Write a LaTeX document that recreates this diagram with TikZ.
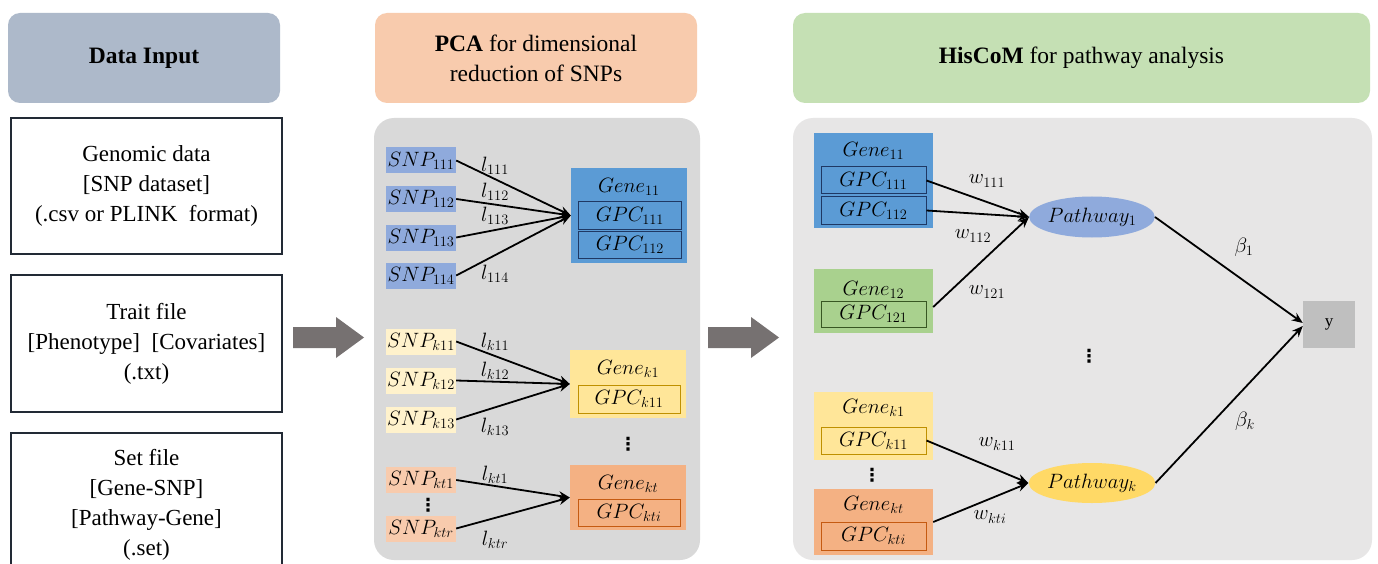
\documentclass[tikz,border=0pt]{standalone}
\usepackage[no-math]{fontspec}
\setmainfont{Liberation Serif}
\newfontfamily\dotsfont{DejaVu Sans}
\usetikzlibrary{arrows.meta,shapes.geometric,calc}

\definecolor{hdrgray}{HTML}{ADB9CA}
\definecolor{hdrpeach}{HTML}{F8CBAD}
\definecolor{hdrgreen}{HTML}{C5E0B4}
\definecolor{panelmid}{HTML}{D9D9D9}
\definecolor{panelright}{HTML}{E7E6E6}
\definecolor{navy}{HTML}{222A35}
\definecolor{geneblue}{HTML}{5B9BD5}
\definecolor{snpblue}{HTML}{8FAADC}
\definecolor{blueline}{HTML}{1F3864}
\definecolor{genegreen}{HTML}{A9D18E}
\definecolor{greenline}{HTML}{385723}
\definecolor{geneyellow}{HTML}{FFE699}
\definecolor{snpyellow}{HTML}{FFF2CC}
\definecolor{yellowline}{HTML}{BF9000}
\definecolor{geneorange}{HTML}{F4B183}
\definecolor{snporange}{HTML}{F8CBAD}
\definecolor{orangeline}{HTML}{C55A11}
\definecolor{pathyellow}{HTML}{FFD966}
\definecolor{ygray}{HTML}{BFBFBF}
\definecolor{bigarrow}{HTML}{767171}

\begin{document}
\begin{tikzpicture}[x=1pt,y=-1pt,
  header/.style={rounded corners=12pt, inner sep=0pt, align=center,
    font=\fontsize{23.5}{30}\selectfont},
  inputbox/.style={draw=navy, line width=2pt, fill=white, inner sep=0pt,
    align=center, font=\fontsize{23}{30}\selectfont},
  panel/.style={rounded corners=20pt, inner sep=0pt},
  mtext/.style={inner sep=0pt, font=\fontsize{20}{23}\selectfont},
  snpbox/.style={mtext, minimum width=70pt, minimum height=26pt},
  genebox/.style={inner sep=0pt},
  gpcbox/.style={mtext, draw, line width=1pt, minimum height=27pt},
  pathnode/.style={ellipse, mtext, minimum width=123pt, minimum height=41pt},
  wire/.style={line width=1.8pt, -{Stealth[length=11pt,width=9pt]}},
  dots/.style={inner sep=0pt, font=\dotsfont\bfseries\fontsize{18}{18}\selectfont}
]
\clip (0,0) rectangle (1378,564);
\fill[white] (0,0) rectangle (1378,564);

% ---------- headers ----------
\node[header, fill=hdrgray, minimum width=272pt, minimum height=90pt] (hin) at (144,58) {\textbf{Data Input}};
\node[header, fill=hdrpeach, minimum width=322pt, minimum height=90pt] (hpca) at (536,58) {\textbf{PCA} for dimensional\\reduction of SNPs};
\node[header, fill=hdrgreen, minimum width=577pt, minimum height=90pt] (hhis) at (1081.5,58) {\textbf{HisCoM} for pathway analysis};

% ---------- input files ----------
\node[inputbox, minimum width=271pt, minimum height=136pt] (geno) at (146.5,186) {Genomic data\\{}[SNP dataset]\\(.csv or PLINK\ \ format)};
\node[inputbox, minimum width=271pt, minimum height=137pt] (trait) at (146.5,343.5) {Trait file\\{}[Phenotype]\ \ [Covariates]\\(.txt)};
\node[inputbox, minimum width=271pt, minimum height=143pt, anchor=north] (setf) at (146.5,432) {};
\node[align=center, inner sep=0pt, font=\fontsize{23}{30}\selectfont] (setftxt) at (146.5,505) {Set file\\{}[Gene-SNP]\\{}[Pathway-Gene]\\(.set)};

% ---------- block arrows between stages ----------
\fill[bigarrow] (293,327) -- (336,327) -- (336,317) -- (364,337.5) -- (336,358) -- (336,348) -- (293,348) -- cycle;
\fill[bigarrow] (708,327) -- (751,327) -- (751,317) -- (779,337.5) -- (751,358) -- (751,348) -- (708,348) -- cycle;

% ---------- panels ----------
\node[panel, fill=panelmid, minimum width=326pt, minimum height=442pt] (pmid) at (537,339) {};
\node[panel, fill=panelright, minimum width=579pt, minimum height=442pt] (pright) at (1082.5,339) {};

% ---------- PCA: gene 11 ----------
\node[snpbox, fill=snpblue] (s111) at (421,160.5) {$SNP_{111}$};
\node[snpbox, fill=snpblue] (s112) at (421,199) {$SNP_{112}$};
\node[snpbox, fill=snpblue] (s113) at (421,237.5) {$SNP_{113}$};
\node[snpbox, fill=snpblue] (s114) at (421,275.5) {$SNP_{114}$};
\node[genebox, fill=geneblue, minimum width=116pt, minimum height=95pt] (g11) at (629,215.5) {};
\node[mtext] (g11t) at (629,187) {$Gene_{11}$};
\node[gpcbox, draw=blueline, minimum width=103pt] (c111) at (630,215.5) {$GPC_{111}$};
\node[gpcbox, draw=blueline, minimum width=103pt] (c112) at (630,245) {$GPC_{112}$};
\foreach \s in {s111,s112,s113,s114} \draw[wire] (\s.east) -- (g11.west);
\node[mtext] (l111) at (495,166) {$l_{111}$};
\node[mtext] (l112) at (495,192) {$l_{112}$};
\node[mtext] (l113) at (495,216) {$l_{113}$};
\node[mtext] (l114) at (495,274) {$l_{114}$};

% ---------- PCA: gene k1 ----------
\node[snpbox, fill=snpyellow] (sk11) at (421,341.5) {$SNP_{k11}$};
\node[snpbox, fill=snpyellow] (sk12) at (421,380.5) {$SNP_{k12}$};
\node[snpbox, fill=snpyellow] (sk13) at (421,419.5) {$SNP_{k13}$};
\node[genebox, fill=geneyellow, minimum width=116pt, minimum height=68pt] (gk1) at (628,384) {};
\node[mtext] (gk1t) at (628,369) {$Gene_{k1}$};
\node[gpcbox, draw=yellowline, minimum width=102pt, minimum height=28pt] (ck11) at (629,399) {$GPC_{k11}$};
\foreach \s in {sk11,sk12,sk13} \draw[wire] (\s.east) -- (gk1.west);
\node[mtext] (lk11) at (495,342) {$l_{k11}$};
\node[mtext] (lk12) at (495,371) {$l_{k12}$};
\node[mtext] (lk13) at (495,427) {$l_{k13}$};
\node[dots] (vd1) at (628,444) {⋮};

% ---------- PCA: gene kt ----------
\node[snpbox, fill=snporange] (skt1) at (421,480) {$SNP_{kt1}$};
\node[dots] (vd2) at (428,505) {⋮};
\node[snpbox, fill=snporange] (sktr) at (421,528.5) {$SNP_{ktr}$};
\node[genebox, fill=geneorange, minimum width=116pt, minimum height=65pt] (gkt) at (628,497.5) {};
\node[mtext] (gktt) at (628,484) {$Gene_{kt}$};
\node[gpcbox, draw=orangeline, minimum width=102pt] (ckti) at (629,512.5) {$GPC_{kti}$};
\foreach \s in {skt1,sktr} \draw[wire] (\s.east) -- (gkt.west);
\node[mtext] (lkt1) at (495,475) {$l_{kt1}$};
\node[mtext] (lktr) at (495,540) {$l_{ktr}$};

% ---------- HisCoM: pathway 1 ----------
\node[genebox, fill=geneblue, minimum width=119pt, minimum height=95pt] (r11) at (873.5,180.5) {};
\node[mtext] (r11t) at (873.5,151) {$Gene_{11}$};
\node[gpcbox, draw=blueline, minimum width=105pt] (rc111) at (873.5,180.5) {$GPC_{111}$};
\node[gpcbox, draw=blueline, minimum width=105pt] (rc112) at (873.5,210.5) {$GPC_{112}$};
\node[genebox, fill=genegreen, minimum width=119pt, minimum height=64pt] (r12) at (873.5,301) {};
\node[mtext] (r12t) at (873.5,290) {$Gene_{12}$};
\node[gpcbox, draw=greenline, minimum width=105pt, minimum height=26pt] (rc121) at (873.5,314) {$GPC_{121}$};
\node[pathnode, fill=snpblue] (p1) at (1092,217) {$Pathway_1$};
\draw[wire] (rc111.east) -- (p1.west);
\draw[wire] (rc112.east) -- (p1.west);
\draw[wire] ($(r12.east)+(0,6)$) -- (p1.west);
\node[mtext] (w111) at (987,181) {$w_{111}$};
\node[mtext] (w112) at (973,236) {$w_{112}$};
\node[mtext] (w121) at (987,292) {$w_{121}$};

\node[dots] (vd3) at (1089,356) {⋮};

% ---------- HisCoM: pathway k ----------
\node[genebox, fill=geneyellow, minimum width=119pt, minimum height=68pt] (rk1) at (873.5,426) {};
\node[mtext] (rk1t) at (873.5,408) {$Gene_{k1}$};
\node[gpcbox, draw=yellowline, minimum width=105pt] (rck11) at (873.5,440.5) {$GPC_{k11}$};
\node[dots] (vd4) at (872,475) {⋮};
\node[genebox, fill=geneorange, minimum width=119pt, minimum height=66pt] (rkt) at (873.5,522) {};
\node[mtext] (rktt) at (873.5,505) {$Gene_{kt}$};
\node[gpcbox, draw=orangeline, minimum width=105pt, minimum height=28pt] (rckti) at (873.5,536) {$GPC_{kti}$};
\node[pathnode, fill=pathyellow, minimum height=40pt] (pk) at (1092,483) {$Pathway_k$};
\draw[wire] (rck11.east) -- (pk.west);
\draw[wire] (rkt.east) -- (pk.west);
\node[mtext] (wk11) at (997,444) {$w_{k11}$};
\node[mtext] (wkti) at (990,517) {$w_{kti}$};

% ---------- outcome ----------
\node[fill=ygray, inner sep=0pt, minimum width=52pt, minimum height=47pt, font=\fontsize{17}{20}\selectfont] (yout) at (1329,324.5) {y};
\draw[wire] (p1.east) -- ($(yout.west)+(0,-1.5)$);
\draw[wire] (pk.east) -- ($(yout.west)+(0,1.5)$);
\node[mtext] (b1) at (1244,247) {$\beta_1$};
\node[mtext] (bk) at (1245,421) {$\beta_k$};
\end{tikzpicture}
\end{document}
